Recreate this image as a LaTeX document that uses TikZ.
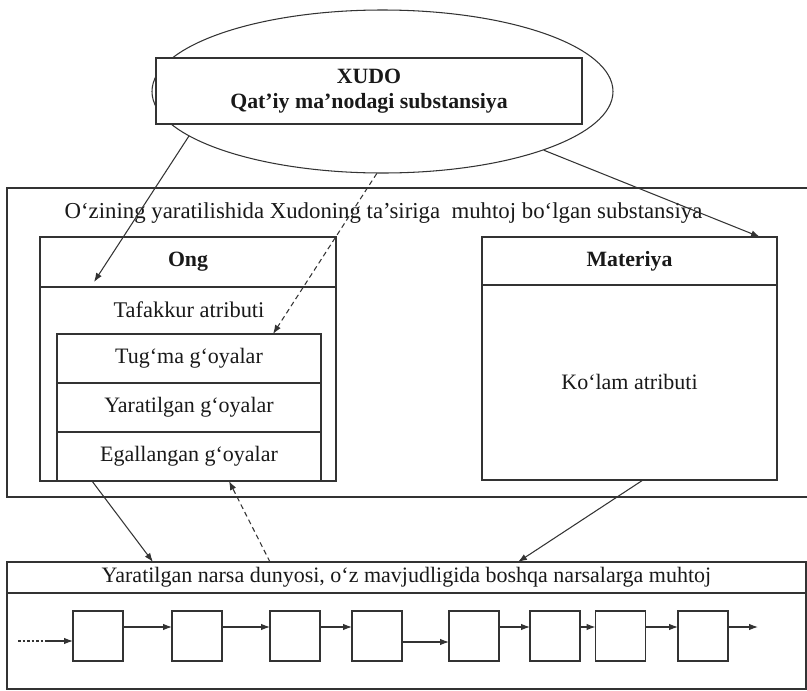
\documentclass[tikz,border=0pt]{standalone}
\usepackage{fontspec}
\setmainfont{Liberation Serif}
\usetikzlibrary{shapes.geometric,arrows.meta,calc}
\begin{document}
\begin{tikzpicture}[x=1pt,y=-1pt,
  ln/.style={line width=1.05pt, draw=black!80},
  box/.style={ln, rectangle, inner sep=0pt, outer sep=0pt},
  txt/.style={font=\fontsize{22}{25}\selectfont, inner sep=0pt, text=black!90},
  bf/.style={font=\fontsize{21.8}{25}\selectfont\bfseries, inner sep=0pt, text=black!90},
  arr/.style={ln, -{Latex[length=9pt,width=6.5pt]}},
  darr/.style={arr, dash pattern=on 5pt off 3.5pt},
]
\clip (0,0) rectangle (807,691);
\fill[white] (0,0) rectangle (807,691);

% top: God
\node[ln, ellipse, minimum width=461pt, minimum height=163pt, inner sep=0pt] (ell) at (382.5,91.5) {};
\node[box, fill=white, minimum width=426pt, minimum height=66pt, align=center,
      font=\fontsize{21.8}{25}\selectfont\bfseries, text=black!90] (xudo) at (369,91)
      {XUDO\\Qat’iy ma’nodagi substansiya};

% middle container
\node[box, minimum width=805pt, minimum height=309pt] (mid) at (409.5,342.5) {};
\node[txt, font=\fontsize{22.8}{25}\selectfont] (midtxt) at (383.5,213)
     {O‘zining yaratilishida Xudoning ta’siriga\ \ muhtoj bo‘lgan substansiya};

% Ong
\node[box, minimum width=296pt, minimum height=244pt] (ong) at (188,359) {};
\node[box, bf, minimum width=296pt, minimum height=50pt] (onghd) at (188,262) {Ong};
\node[txt, font=\fontsize{22.4}{25}\selectfont] (taf) at (189,310) {Tafakkur atributi};
\node[box, txt, minimum width=264pt, minimum height=49pt] (tug) at (189,358.5) {Tug‘ma g‘oyalar};
\node[box, txt, minimum width=264pt, minimum height=49pt] (yar) at (189,407.5) {Yaratilgan g‘oyalar};
\node[box, txt, minimum width=264pt, minimum height=49pt] (ega) at (189,456.5) {Egallangan g‘oyalar};

% Materiya
\node[box, minimum width=295pt, minimum height=243pt] (mat) at (629.5,358.5) {};
\node[box, bf, minimum width=295pt, minimum height=48pt] (mathd) at (629.5,261) {Materiya};
\node[txt] (kol) at (629.5,382) {Ko‘lam atributi};

% bottom world
\node[box, minimum width=799pt, minimum height=127pt] (bot) at (406.5,625.5) {};
\node[box, txt, minimum width=799pt, minimum height=31pt] (bothd) at (406.5,577.5)
     {Yaratilgan narsa dunyosi, o‘z mavjudligida boshqa narsalarga muhtoj};

\foreach \n/\x in {1/98,2/197,3/295,4/377,5/474,6/555,7/620.5,8/703}
  \node[box, minimum size=50pt] (b\n) at (\x,636) {};

% connectors
\draw[arr] (ell.193) -- ([xshift=54pt,yshift=5pt]onghd.south west);
\draw[darr] (ell.266) -- ([xshift=84pt]tug.north);
\draw[arr] (ell.340) -- ([xshift=-17pt]mat.north east);
\draw[arr] ([xshift=-96pt]ong.south) -- ([xshift=-253.5pt]bot.north);
\draw[darr] ([xshift=-136.5pt]bot.north) -- ([xshift=41pt]ong.south);
\draw[arr] ([xshift=13.5pt]mat.south) -- ([xshift=111.5pt]bot.north);

\foreach \a/\b in {1/2,2/3,3/4,5/6,6/7,7/8}
  \draw[arr] ([yshift=9pt]b\a.east) -- ([yshift=9pt]b\b.west);
\draw[arr] ([yshift=-6pt]b4.east) -- ([yshift=-6pt]b5.west);
\coordinate (in0) at (18,641);
\coordinate (in1) at (45,641);
\draw[ln, dash pattern=on 2.5pt off 2pt] (in0) -- (in1);
\draw[arr] (in1) -- ([yshift=-5pt]b1.west);
\coordinate (out) at (758,627);
\draw[arr] ([yshift=9pt]b8.east) -- (out);
\end{tikzpicture}
\end{document}
